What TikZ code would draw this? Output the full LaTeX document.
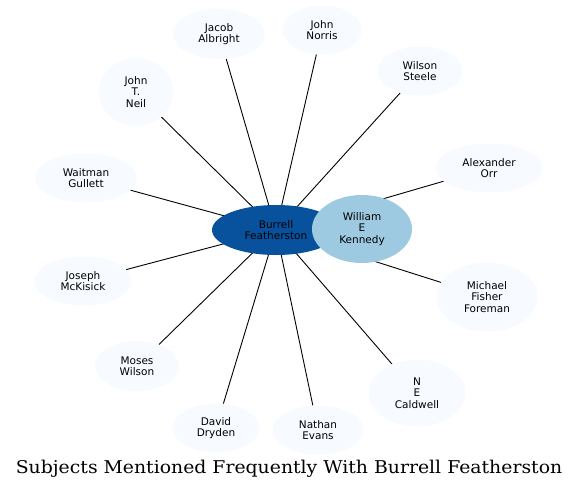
\documentclass[tikz,border=0pt]{standalone}
\usepackage{fontspec}
\newfontfamily\dejavu{DejaVu Sans}
\newfontfamily\dejavuserif[FakeStretch=1.07]{DejaVu Serif}
\usetikzlibrary{shapes.geometric,backgrounds}
\definecolor{outerfill}{HTML}{F7FBFF}
\definecolor{centerfill}{HTML}{08519C}
\definecolor{kennedyfill}{HTML}{9ECAE1}
\begin{document}
\begin{tikzpicture}[x=1pt,y=-1pt,
  person/.style={ellipse, fill=outerfill, inner sep=0pt, align=center,
    font=\dejavu\fontsize{10.5}{11.5}\selectfont, text=black},
  link/.style={draw=black, line width=0.9pt}]
\useasboundingbox (0,0) rectangle (579,490);
\node[person, minimum width=92pt, minimum height=50pt] (ja) at (219,34) {Jacob\\Albright};
\node[person, minimum width=79pt, minimum height=49pt] (jn) at (322,30) {John\\Norris};
\node[person, minimum width=85pt, minimum height=49pt] (ws) at (420,71) {Wilson\\Steele};
\node[person, minimum width=74pt, minimum height=68pt] (jt) at (136,92) {John\\T.\\Neil};
\node[person, minimum width=102pt, minimum height=49pt] (wg) at (86,178) {Waitman\\Gullett};
\node[person, minimum width=107pt, minimum height=49pt] (ao) at (489,168) {Alexander\\Orr};
\node[person, minimum width=97pt, minimum height=49pt] (jm) at (83,281) {Joseph\\McKisick};
\node[person, minimum width=101pt, minimum height=69pt] (mf) at (487,297) {Michael\\Fisher\\Foreman};
\node[person, minimum width=84pt, minimum height=50pt] (mw) at (137,366) {Moses\\Wilson};
\node[person, minimum width=97pt, minimum height=67pt] (nc) at (417,393) {N\\E\\Caldwell};
\node[person, minimum width=87pt, minimum height=49pt] (dd) at (216,428) {David\\Dryden};
\node[person, minimum width=91pt, minimum height=49pt] (ne) at (318,430) {Nathan\\Evans};
\node[person, fill=centerfill, minimum width=128pt, minimum height=50pt] (bf) at (276,230) {Burrell\\Featherston};
\node[person, fill=kennedyfill, minimum width=100pt, minimum height=68pt] (wk) at (362,229) {William\\E\\Kennedy};
\begin{scope}[on background layer]
\foreach \t in {ja,jn,ws,jt,wg,ao,jm,mf,mw,nc,dd,ne,wk}
  \draw[link] (bf.center) -- (\t);
\end{scope}
\node (title) at (289,469) {\dejavuserif\fontsize{17.6}{20}\selectfont Subjects Mentioned Frequently With Burrell Featherston};
\end{tikzpicture}
\end{document}
